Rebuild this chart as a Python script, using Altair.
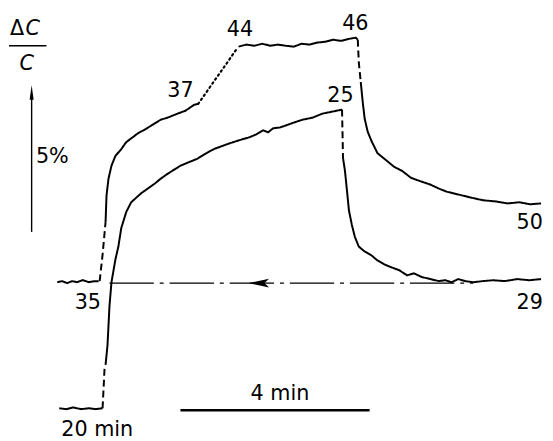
import altair as alt
import pandas as pd

# ---------------- data (time in min, signal in % dC/C) ----------------
# upper recording (35 -> 37 ... 44 -> 46 -> 50)
a0_t = [-0.979, -0.875, -0.771, -0.667, -0.5625, -0.4375, -0.3125, -0.1875, -0.104]
a0_v = [0.034, 0.068, 0.0, 0.068, 0.034, 0.103, 0.034, 0.068, 0.068]
a1_t = [-0.083, -0.021, 0.042]
a1_v = [0.068, 0.99, 2.12]
a2_t = [0.042, 0.0625, 0.104, 0.167, 0.25, 0.375, 0.479, 0.583, 0.729, 0.875, 1.042,
        1.208, 1.354, 1.5625, 1.729, 1.917, 2.0]
a2_v = [2.12, 3.05, 3.63, 4.08, 4.42, 4.66, 4.90, 5.03, 5.21, 5.34, 5.51,
        5.68, 5.75, 5.89, 5.99, 6.20, 6.23]
a3_t = [2.0, 2.833]
a3_v = [6.23, 8.18]
a4_t = [2.854, 3.021, 3.1875, 3.354, 3.521, 3.6875, 3.854, 4.021, 4.1875, 4.354, 4.52,
        4.6875, 4.854, 5.02, 5.1875, 5.333, 5.375]
a4_v = [8.22, 8.29, 8.25, 8.32, 8.25, 8.29, 8.25, 8.22, 8.32, 8.29, 8.36,
        8.39, 8.46, 8.42, 8.49, 8.53, 8.46]
a5_t = [5.375, 5.396, 5.4375]
a5_v = [8.46, 7.67, 6.99]
a6_t = [5.4375, 5.479, 5.52, 5.583, 5.667, 5.79, 5.9375, 6.146, 6.3125, 6.5, 6.667,
        6.917, 7.083, 7.25, 7.5, 7.75, 8.02, 8.29, 8.54, 8.79, 9.02, 9.25]
a6_v = [6.99, 6.30, 5.72, 5.27, 4.93, 4.52, 4.32, 4.04, 3.90, 3.66, 3.56,
        3.42, 3.29, 3.18, 3.08, 2.98, 2.88, 2.84, 2.77, 2.81, 2.74, 2.77]

# lower recording (20 min -> 25 -> 29)
b0_t = [-0.9375, -0.79, -0.646, -0.479, -0.3125, -0.167, -0.021]
b0_v = [-4.35, -4.38, -4.32, -4.38, -4.35, -4.38, -4.35]
b1_t = [-0.021, 0.021]
b1_v = [-4.35, -2.95]
b2_t = [0.042, 0.083, 0.125, 0.167, 0.25, 0.3125, 0.375, 0.479, 0.583, 0.792, 0.9375,
        1.083, 1.208, 1.354, 1.625, 1.8125, 1.979, 2.146, 2.333, 2.5, 2.667, 2.875,
        3.083, 3.229, 3.375, 3.479, 3.583, 3.729, 3.854, 4.021, 4.208, 4.417, 4.625,
        4.833, 5.042]
b2_v = [-2.84, -2.16, -0.79, 0.03, 0.82, 1.27, 1.92, 2.47, 2.81, 3.12, 3.29,
        3.46, 3.63, 3.80, 4.08, 4.21, 4.32, 4.49, 4.66, 4.76, 4.86, 4.97,
        5.07, 5.17, 5.31, 5.24, 5.38, 5.41, 5.48, 5.58, 5.68, 5.75, 5.89,
        5.96, 6.03]
b3_t = [5.042, 5.0625]
b3_v = [6.03, 4.35]
b4_t = [5.0625, 5.104, 5.146, 5.1875, 5.25, 5.3125, 5.396, 5.52, 5.667, 5.79, 5.9375,
        6.083, 6.25, 6.417, 6.5625, 6.729, 6.917, 7.083, 7.229, 7.354, 7.5, 7.646,
        7.8125, 8.02, 8.23, 8.48, 8.75, 9.0, 9.25]
b4_v = [4.35, 3.90, 3.22, 2.53, 2.02, 1.61, 1.27, 1.10, 0.96, 0.79, 0.65,
        0.55, 0.45, 0.27, 0.34, 0.21, 0.14, 0.07, 0.10, 0.03, 0.14, 0.07,
        0.03, 0.07, 0.10, 0.07, 0.14, 0.10, 0.14]

# reference (baseline) line with return arrow
ref_t = [0.125, 7.8125]
ref_v = [0.0, 0.0]
ref_arrow_t = [3.281]
ref_arrow_v = [0.0]

# labels
lab_text = ["\u0394", "5%", "37", "44", "46", "25", "50", "29", "35", "20 min", "4 min"]
lab_t = [-1.829, -1.083, 1.625, 2.885, 5.323, 5.01, 9.01, 9.01, -0.333, -0.135, 3.729]
lab_v = [8.63, 4.18, 6.47, 8.60, 8.80, 6.30, 1.88, -0.89, -0.89, -5.32, -4.06]
ital_text = ["C", "C"]
ital_t = [-1.50, -1.625]
ital_v = [8.63, 7.40]

# fraction bar, 4-min scale bar
frac_t = [-2.0, -1.208]
frac_v = 8.25
bar_t = [1.625, 5.625]
bar_v = -4.42
# 5% vertical arrow
arr_t = -1.521
arr_v = [1.78, 6.58]
arr_head_v = 6.63

# ---------------- build tables ----------------
segs = [
    ("a0", "solid", a0_t, a0_v), ("a1", "dash", a1_t, a1_v), ("a2", "solid", a2_t, a2_v),
    ("a3", "dot", a3_t, a3_v), ("a4", "solid", a4_t, a4_v), ("a5", "dash", a5_t, a5_v),
    ("a6", "solid", a6_t, a6_v),
    ("b0", "solid", b0_t, b0_v), ("b1", "dash", b1_t, b1_v), ("b2", "solid", b2_t, b2_v),
    ("b3", "dash", b3_t, b3_v), ("b4", "solid", b4_t, b4_v),
]
rows = []
for name, style, ts, vs in segs:
    for i, (t, v) in enumerate(zip(ts, vs)):
        rows.append({"seg": name, "style": style, "i": i, "t": t, "v": v})
df = pd.DataFrame(rows)

xs = alt.Scale(domain=[-2.0208, 9.3333], nice=False, zero=False)
ys = alt.Scale(domain=[-5.377, 9.452], nice=False, zero=False)
X = alt.X("t:Q", scale=xs, axis=None)
Y = alt.Y("v:Q", scale=ys, axis=None)

def seg_layer(style, dash):
    return alt.Chart(df).transform_filter(alt.datum.style == style).mark_line(
        color="black", strokeWidth=2.0, strokeDash=dash, strokeCap="butt"
    ).encode(x=X, y=Y, detail="seg:N", order="i:Q")

solid = seg_layer("solid", [1, 0])
dash = seg_layer("dash", [7, 4])
dot = alt.Chart(df).transform_filter(alt.datum.style == "dot").mark_line(
    color="black", strokeWidth=2.2, strokeDash=[1.6, 3.4], strokeCap="round"
).encode(x=X, y=Y, detail="seg:N", order="i:Q")

ref_df = pd.DataFrame({"t": ref_t, "v": ref_v})
ref = alt.Chart(ref_df).mark_line(color="black", strokeWidth=1.2,
                                  strokeDash=[45, 6, 4, 6]).encode(x=X, y=Y)
refarr = alt.Chart(pd.DataFrame({"t": ref_arrow_t, "v": ref_arrow_v})).mark_point(
    shape="M-1,0L1,-0.43L0.55,0L1,0.43Z", size=441, filled=True, color="black", opacity=1
).encode(x=X, y=Y)

rules_df = pd.DataFrame({
    "t": [frac_t[0], bar_t[0]], "t2": [frac_t[1], bar_t[1]], "v": [frac_v, bar_v],
    "w": ["frac", "bar"]})
frac = alt.Chart(rules_df).transform_filter(alt.datum.w == "frac").mark_rule(
    color="black", strokeWidth=1.4).encode(x=X, x2="t2:Q", y=Y)
bar = alt.Chart(rules_df).transform_filter(alt.datum.w == "bar").mark_rule(
    color="black", strokeWidth=2.6).encode(x=X, x2="t2:Q", y=Y)

arr_df = pd.DataFrame({"t": [arr_t], "v": [arr_v[0]], "v2": [arr_v[1]]})
shaft = alt.Chart(arr_df).mark_rule(color="black", strokeWidth=1.4).encode(
    x=X, y=Y, y2="v2:Q")
head = alt.Chart(pd.DataFrame({"t": [arr_t], "v": [arr_head_v]})).mark_point(
    shape="M0,-1L0.27,1L-0.27,1Z", size=225, filled=True, color="black", opacity=1
).encode(x=X, y=Y)

lab_df = pd.DataFrame({"t": lab_t, "v": lab_v, "label": lab_text})
labels = alt.Chart(lab_df).mark_text(
    font="DejaVu Sans", fontSize=21, color="black", align="center", baseline="alphabetic"
).encode(x=X, y=Y, text="label:N")
ital_df = pd.DataFrame({"t": ital_t, "v": ital_v, "label": ital_text})
ital = alt.Chart(ital_df).mark_text(
    font="DejaVu Sans", fontSize=21, fontStyle="italic", color="black",
    align="center", baseline="alphabetic"
).encode(x=X, y=Y, text="label:N")

chart = alt.layer(
    ref, refarr, frac, bar, shaft, head, solid, dash, dot, labels, ital
).properties(
    width=545, height=433, padding=0, autosize=alt.AutoSizeParams(type="none"),
    background="white"
).configure_view(stroke=None)

chart.save("out.html", embed_options={"renderer": "svg", "actions": False})
